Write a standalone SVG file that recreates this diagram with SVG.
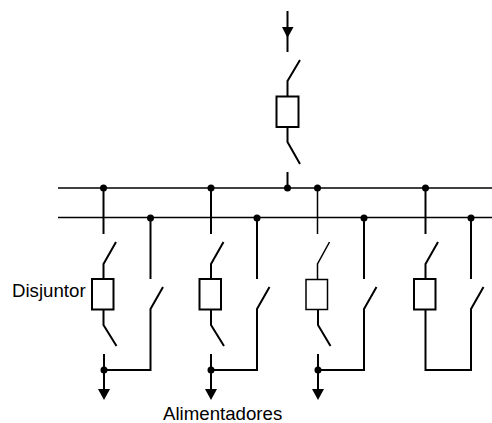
<svg xmlns="http://www.w3.org/2000/svg" width="492" height="423" viewBox="0 0 492 423">
<style>
line,polyline,rect{fill:none;stroke:#000;stroke-width:2}
.thin{stroke-width:1.5}
.dot{fill:#000;stroke:none}
.head{fill:#000;stroke:none}
text{font-family:"Liberation Sans",Arial,sans-serif;font-size:18.67px;fill:#000}
</style>
<rect width="492" height="423" style="fill:#fff;stroke:none"/>
<g id="connectors">
<line x1="58" y1="188" x2="492" y2="188" class="thin"/>
<line x1="58" y1="217.5" x2="492" y2="217.5" class="thin"/>
<line x1="287.5" y1="11" x2="287.5" y2="52"/>
<polygon class="head" points="282,27 293.5,27 287.5,38"/>
<polyline points="300,60 287.5,81 287.5,96"/>
<polyline points="287.5,127 287.5,142 300,164"/>
<line x1="287.5" y1="172" x2="287.5" y2="188"/>
<circle class="dot" cx="287.5" cy="188" r="3.5"/>
<line x1="103.5" y1="188" x2="103.5" y2="234"/>
<circle class="dot" cx="103.5" cy="188" r="3.5"/>
<polyline points="116,242 103.5,264 103.5,279"/>
<polyline points="103.5,310 103.5,325 116.5,346"/>
<line x1="104" y1="354" x2="104" y2="392"/>
<circle class="dot" cx="104" cy="370" r="3.5"/>
<polygon class="head" points="98,389 110,389 104,400"/>
<polyline points="104,370 150.5,370 150.5,309 163,287"/>
<line x1="150.5" y1="218" x2="150.5" y2="279"/>
<circle class="dot" cx="150.5" cy="218" r="3.5"/>
<line x1="211" y1="188" x2="211" y2="234"/>
<circle class="dot" cx="211" cy="188" r="3.5"/>
<polyline points="223.5,242 211,264 211,279"/>
<polyline points="211,310 211,325 224,346"/>
<line x1="211" y1="354" x2="211" y2="392"/>
<circle class="dot" cx="211" cy="370" r="3.5"/>
<polygon class="head" points="205,389 217,389 211,400"/>
<polyline points="211,370 257,370 257,309 269.5,287"/>
<line x1="257" y1="218" x2="257" y2="279"/>
<circle class="dot" cx="257" cy="218" r="3.5"/>
<line x1="317.5" y1="188" x2="317.5" y2="234" class="thin"/>
<circle class="dot" cx="317.5" cy="188" r="3.5"/>
<polyline points="329.5,242 317.5,264 317.5,279" class="thin"/>
<polyline points="318,310 318,325 330.5,346"/>
<line x1="318" y1="354" x2="318" y2="392"/>
<circle class="dot" cx="318" cy="370" r="3.5"/>
<polygon class="head" points="312,389 324,389 318,400"/>
<polyline points="318,370 364,370 364,309 376.5,287"/>
<line x1="364" y1="218" x2="364" y2="279"/>
<circle class="dot" cx="364" cy="218" r="3.5"/>
<line x1="425.5" y1="188" x2="425.5" y2="234"/>
<circle class="dot" cx="425.5" cy="188" r="3.5"/>
<polyline points="438,242 425.5,264 425.5,279"/>
<polyline points="425.5,310 425.5,370 471,370 471,309 483.5,287"/>
<line x1="471" y1="218" x2="471" y2="279"/>
<circle class="dot" cx="471" cy="218" r="3.5"/>
</g>
<g id="breaker-main"><rect x="276.5" y="96.5" width="22" height="30.5"/></g>
<g id="breaker-1"><rect x="92" y="279" width="21.5" height="30.5"/></g>
<g id="breaker-2"><rect x="199.5" y="279" width="21.5" height="30.5"/></g>
<g id="breaker-3"><rect x="306" y="279.5" width="21.5" height="30" class="thin"/></g>
<g id="breaker-4"><rect x="414" y="279" width="21.5" height="30.5"/></g>
<g id="label-disjuntor"><text x="12" y="297">Disjuntor</text></g>
<g id="label-alimentadores"><text x="163" y="420">Alimentadores</text></g>
</svg>
